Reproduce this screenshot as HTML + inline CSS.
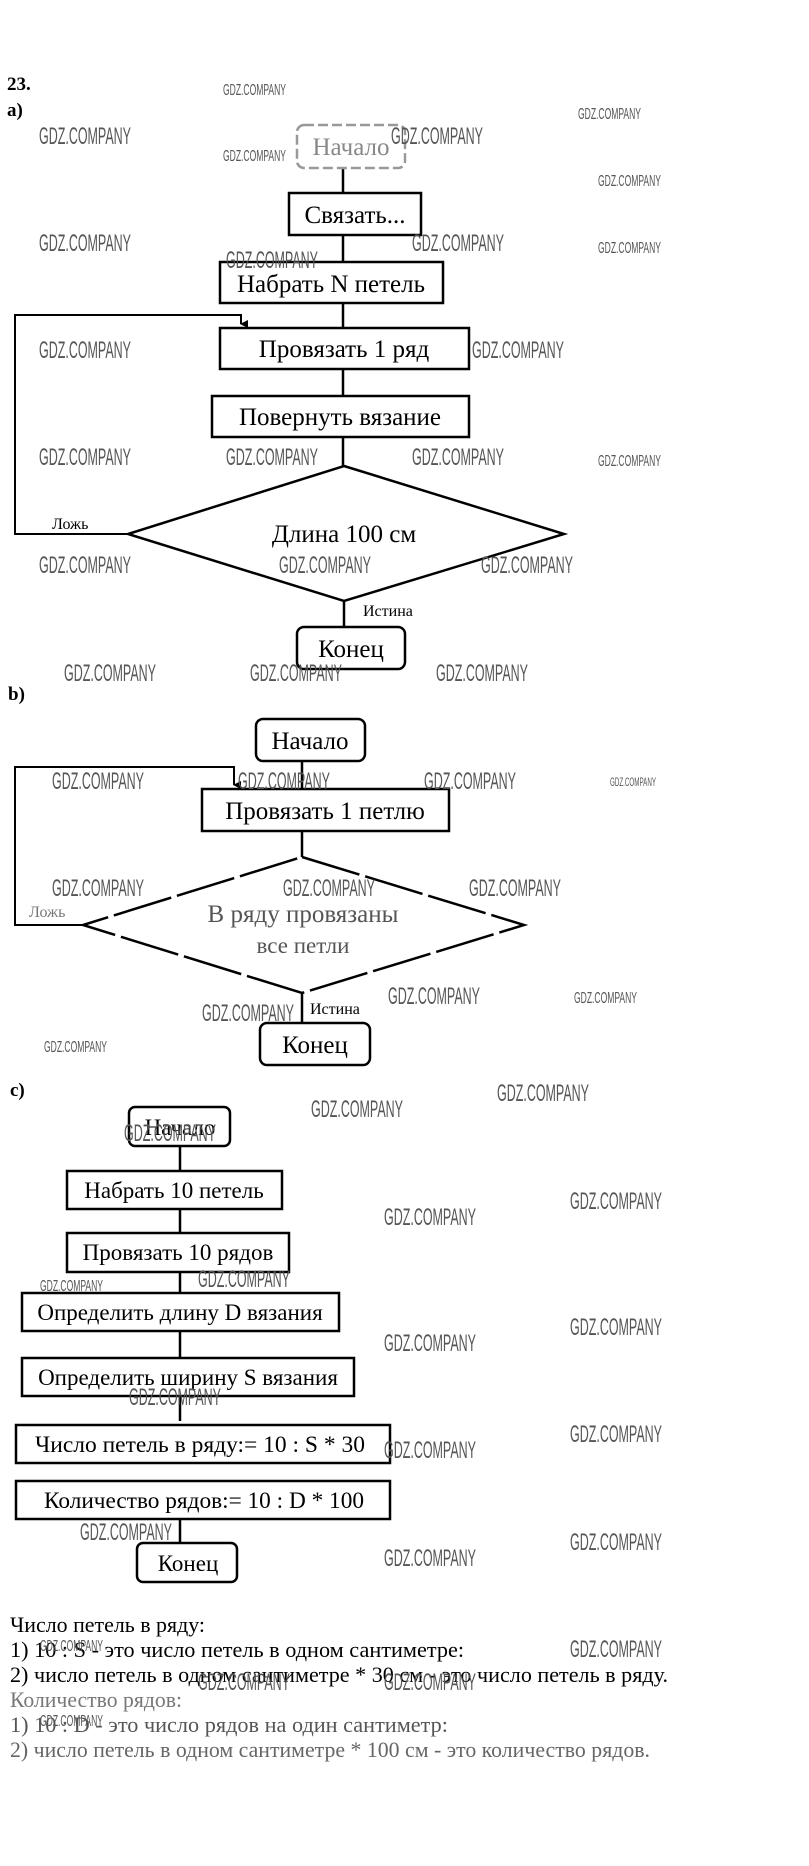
<!DOCTYPE html>
<html><head><meta charset="utf-8"><style>
html,body{margin:0;padding:0;background:#fff;width:809px;height:1866px;overflow:hidden}
svg{display:block}
.t{font-family:"Liberation Serif","DejaVu Serif",serif;fill:#000}
.w{font-family:"Liberation Sans","DejaVu Sans",sans-serif;fill:#555}
</style></head><body>
<svg width="809" height="1866" viewBox="0 0 809 1866" xmlns="http://www.w3.org/2000/svg">
<defs><marker id="ar" markerWidth="8" markerHeight="8" refX="4" refY="7" orient="auto" markerUnits="userSpaceOnUse"><path d="M0,0 L8,0 L4,8 z" fill="#000"/></marker></defs>
<g stroke="#000" stroke-width="2.5" fill="none">
<line x1="343" y1="168" x2="343" y2="193"/>
<line x1="343" y1="235" x2="343" y2="262"/>
<line x1="343" y1="303" x2="343" y2="328"/>
<line x1="343" y1="369" x2="343" y2="396"/>
<line x1="343" y1="437" x2="343" y2="466"/>
<line x1="344" y1="601" x2="344" y2="627"/>
<rect x="297" y="125" width="108" height="43" rx="7" stroke="#999" stroke-dasharray="10 4"/>
<rect x="289" y="193" width="132" height="42"/>
<rect x="220" y="262" width="223" height="41"/>
<rect x="220" y="328" width="249" height="41"/>
<rect x="212" y="396" width="257" height="41"/>
<polygon points="344,466 564,534 344,601 128,534"/>
<polyline points="128,534 15,534 15,315 241,315 241,324" marker-end="url(#ar)" stroke-width="2"/>
<rect x="297" y="627" width="108" height="42" rx="7"/>
<line x1="302" y1="761" x2="302" y2="789"/>
<line x1="302" y1="831" x2="302" y2="857"/>
<line x1="302" y1="993" x2="302" y2="1023"/>
<rect x="256" y="719" width="109" height="42" rx="7"/>
<rect x="202" y="789" width="247" height="42"/>
<polygon points="302,857 524,925 302,993 83,925" stroke-dasharray="60 6"/>
<polyline points="83,925 15,925 15,767 234,767 234,785" marker-end="url(#ar)" stroke-width="2"/>
<rect x="260" y="1023" width="110" height="42" rx="7"/>
<line x1="180" y1="1146" x2="180" y2="1171"/>
<line x1="180" y1="1209" x2="180" y2="1233"/>
<line x1="180" y1="1272" x2="180" y2="1293"/>
<line x1="180" y1="1331" x2="180" y2="1358"/>
<line x1="180" y1="1396" x2="180" y2="1421"/>
<line x1="180" y1="1519" x2="180" y2="1543"/>
<rect x="129" y="1107" width="101" height="39" rx="6"/>
<rect x="67" y="1171" width="215" height="38"/>
<rect x="67" y="1233" width="222" height="39"/>
<rect x="22" y="1293" width="317" height="38"/>
<rect x="22" y="1358" width="332" height="38"/>
<rect x="16" y="1425" width="374" height="38"/>
<rect x="16" y="1481" width="374" height="38"/>
<rect x="137" y="1543" width="100" height="39" rx="6"/>
</g>
<g class="t" text-anchor="middle" font-size="25">
<text x="351" y="155" fill="#888">Начало</text>
<text x="355" y="223">Связать...</text>
<text x="331" y="292">Набрать N петель</text>
<text x="344" y="357">Провязать 1 ряд</text>
<text x="340" y="425">Повернуть вязание</text>
<text x="344" y="542">Длина 100 см</text>
<text x="351" y="657">Конец</text>
<text x="310" y="749">Начало</text>
<text x="325" y="819">Провязать 1 петлю</text>
<text x="303" y="922" fill="#555">В ряду провязаны</text>
<text x="303" y="953" fill="#555" font-size="23">все петли</text>
<text x="315" y="1053">Конец</text>
</g>
<g class="t" text-anchor="middle" font-size="23">
<text x="180" y="1135">Начало</text>
<text x="174" y="1198">Набрать 10 петель</text>
<text x="178" y="1260">Провязать 10 рядов</text>
<text x="180" y="1320">Определить длину D вязания</text>
<text x="188" y="1385">Определить ширину S вязания</text>
<text x="200" y="1452" textLength="330" lengthAdjust="spacingAndGlyphs">Число петель в ряду:= 10 : S * 30</text>
<text x="204" y="1508" textLength="320" lengthAdjust="spacingAndGlyphs">Количество рядов:= 10 : D * 100</text>
<text x="188" y="1571">Конец</text>
</g>
<g class="t" font-size="16">
<text x="52" y="529">Ложь</text>
<text x="363" y="616">Истина</text>
<text x="29" y="917" fill="#777">Ложь</text>
<text x="310" y="1014">Истина</text>
</g>
<g class="t" font-weight="bold" font-size="19">
<text x="7" y="90">23.</text>
<text x="7" y="116">a)</text>
<text x="8" y="700">b)</text>
<text x="10" y="1096">c)</text>
</g>
<g class="t" font-size="22">
<text x="10" y="1632" textLength="195" lengthAdjust="spacingAndGlyphs">Число петель в ряду:</text>
<text x="10" y="1657" textLength="454" lengthAdjust="spacingAndGlyphs">1) 10 : S - это число петель в одном сантиметре:</text>
<text x="10" y="1682" textLength="658" lengthAdjust="spacingAndGlyphs">2) число петель в одном сантиметре * 30 см - это число петель в ряду.</text>
<text x="10" y="1707" fill="#777" textLength="172" lengthAdjust="spacingAndGlyphs">Количество рядов:</text>
<text x="10" y="1732" fill="#555" textLength="438" lengthAdjust="spacingAndGlyphs">1) 10 : D - это число рядов на один сантиметр:</text>
<text x="10" y="1757" fill="#666" textLength="640" lengthAdjust="spacingAndGlyphs">2) число петель в одном сантиметре * 100 см - это количество рядов.</text>
</g>
<g class="w" font-size="24">
<text x="39" y="144" textLength="92" lengthAdjust="spacingAndGlyphs">GDZ.COMPANY</text>
<text x="391" y="144" textLength="92" lengthAdjust="spacingAndGlyphs">GDZ.COMPANY</text>
<text x="39" y="251" textLength="92" lengthAdjust="spacingAndGlyphs">GDZ.COMPANY</text>
<text x="412" y="251" textLength="92" lengthAdjust="spacingAndGlyphs">GDZ.COMPANY</text>
<text x="226" y="268" textLength="92" lengthAdjust="spacingAndGlyphs">GDZ.COMPANY</text>
<text x="39" y="358" textLength="92" lengthAdjust="spacingAndGlyphs">GDZ.COMPANY</text>
<text x="472" y="358" textLength="92" lengthAdjust="spacingAndGlyphs">GDZ.COMPANY</text>
<text x="39" y="465" textLength="92" lengthAdjust="spacingAndGlyphs">GDZ.COMPANY</text>
<text x="226" y="465" textLength="92" lengthAdjust="spacingAndGlyphs">GDZ.COMPANY</text>
<text x="412" y="465" textLength="92" lengthAdjust="spacingAndGlyphs">GDZ.COMPANY</text>
<text x="39" y="573" textLength="92" lengthAdjust="spacingAndGlyphs">GDZ.COMPANY</text>
<text x="279" y="573" textLength="92" lengthAdjust="spacingAndGlyphs">GDZ.COMPANY</text>
<text x="481" y="573" textLength="92" lengthAdjust="spacingAndGlyphs">GDZ.COMPANY</text>
<text x="64" y="681" textLength="92" lengthAdjust="spacingAndGlyphs">GDZ.COMPANY</text>
<text x="250" y="681" textLength="92" lengthAdjust="spacingAndGlyphs">GDZ.COMPANY</text>
<text x="436" y="681" textLength="92" lengthAdjust="spacingAndGlyphs">GDZ.COMPANY</text>
<text x="52" y="789" textLength="92" lengthAdjust="spacingAndGlyphs">GDZ.COMPANY</text>
<text x="238" y="789" textLength="92" lengthAdjust="spacingAndGlyphs">GDZ.COMPANY</text>
<text x="424" y="789" textLength="92" lengthAdjust="spacingAndGlyphs">GDZ.COMPANY</text>
<text x="52" y="896" textLength="92" lengthAdjust="spacingAndGlyphs">GDZ.COMPANY</text>
<text x="283" y="896" textLength="92" lengthAdjust="spacingAndGlyphs">GDZ.COMPANY</text>
<text x="469" y="896" textLength="92" lengthAdjust="spacingAndGlyphs">GDZ.COMPANY</text>
<text x="388" y="1004" textLength="92" lengthAdjust="spacingAndGlyphs">GDZ.COMPANY</text>
<text x="202" y="1021" textLength="92" lengthAdjust="spacingAndGlyphs">GDZ.COMPANY</text>
<text x="311" y="1117" textLength="92" lengthAdjust="spacingAndGlyphs">GDZ.COMPANY</text>
<text x="497" y="1101" textLength="92" lengthAdjust="spacingAndGlyphs">GDZ.COMPANY</text>
<text x="124" y="1141" textLength="92" lengthAdjust="spacingAndGlyphs">GDZ.COMPANY</text>
<text x="570" y="1209" textLength="92" lengthAdjust="spacingAndGlyphs">GDZ.COMPANY</text>
<text x="384" y="1225" textLength="92" lengthAdjust="spacingAndGlyphs">GDZ.COMPANY</text>
<text x="198" y="1287" textLength="92" lengthAdjust="spacingAndGlyphs">GDZ.COMPANY</text>
<text x="570" y="1335" textLength="92" lengthAdjust="spacingAndGlyphs">GDZ.COMPANY</text>
<text x="384" y="1351" textLength="92" lengthAdjust="spacingAndGlyphs">GDZ.COMPANY</text>
<text x="129" y="1405" textLength="92" lengthAdjust="spacingAndGlyphs">GDZ.COMPANY</text>
<text x="570" y="1442" textLength="92" lengthAdjust="spacingAndGlyphs">GDZ.COMPANY</text>
<text x="384" y="1458" textLength="92" lengthAdjust="spacingAndGlyphs">GDZ.COMPANY</text>
<text x="80" y="1540" textLength="92" lengthAdjust="spacingAndGlyphs">GDZ.COMPANY</text>
<text x="570" y="1550" textLength="92" lengthAdjust="spacingAndGlyphs">GDZ.COMPANY</text>
<text x="384" y="1566" textLength="92" lengthAdjust="spacingAndGlyphs">GDZ.COMPANY</text>
<text x="570" y="1657" textLength="92" lengthAdjust="spacingAndGlyphs">GDZ.COMPANY</text>
<text x="198" y="1690" textLength="92" lengthAdjust="spacingAndGlyphs">GDZ.COMPANY</text>
<text x="384" y="1690" textLength="92" lengthAdjust="spacingAndGlyphs">GDZ.COMPANY</text>
</g>
<g class="w" font-size="16">
<text x="223" y="95" textLength="63" lengthAdjust="spacingAndGlyphs">GDZ.COMPANY</text>
<text x="223" y="161" textLength="63" lengthAdjust="spacingAndGlyphs">GDZ.COMPANY</text>
<text x="578" y="119" textLength="63" lengthAdjust="spacingAndGlyphs">GDZ.COMPANY</text>
<text x="598" y="186" textLength="63" lengthAdjust="spacingAndGlyphs">GDZ.COMPANY</text>
<text x="598" y="253" textLength="63" lengthAdjust="spacingAndGlyphs">GDZ.COMPANY</text>
<text x="598" y="466" textLength="63" lengthAdjust="spacingAndGlyphs">GDZ.COMPANY</text>
<text x="610" y="786" textLength="46" lengthAdjust="spacingAndGlyphs" font-size="12">GDZ.COMPANY</text>
<text x="574" y="1003" textLength="63" lengthAdjust="spacingAndGlyphs">GDZ.COMPANY</text>
<text x="44" y="1052" textLength="63" lengthAdjust="spacingAndGlyphs">GDZ.COMPANY</text>
<text x="40" y="1291" textLength="63" lengthAdjust="spacingAndGlyphs">GDZ.COMPANY</text>
<text x="40" y="1651" textLength="63" lengthAdjust="spacingAndGlyphs">GDZ.COMPANY</text>
<text x="40" y="1726" textLength="63" lengthAdjust="spacingAndGlyphs">GDZ.COMPANY</text>
</g>
</svg>
</body></html>
